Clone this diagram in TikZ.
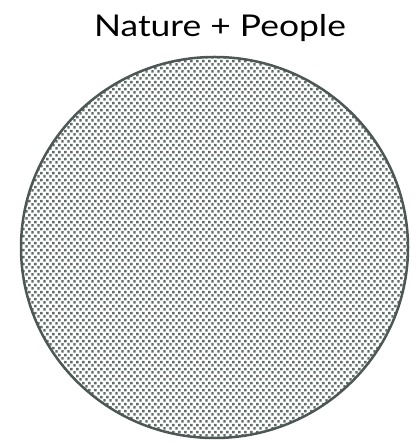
\documentclass[tikz,border=0pt]{standalone}
\usepackage{fontspec}
\setmainfont{Lato}
\newfontfamily\titlefont{Lato}[FakeStretch=1.18]
\usetikzlibrary{patterns,shapes.geometric}
\definecolor{dotc}{HTML}{5F6B68}
\definecolor{rimc}{HTML}{4D5856}
\pgfdeclarepatternformonly{sqgrid}{\pgfpointorigin}{\pgfpoint{6.4pt}{7.4pt}}{\pgfpoint{6.4pt}{7.4pt}}{%
  \pgfpathrectangle{\pgfpoint{0.3pt}{0.3pt}}{\pgfpoint{2.7pt}{2.7pt}}%
  \pgfpathrectangle{\pgfpoint{3.5pt}{4.0pt}}{\pgfpoint{2.7pt}{2.7pt}}%
  \pgfusepath{fill}}
\tikzset{
  titletext/.style={font=\titlefont\fontsize{30}{36}\selectfont, text=black, inner sep=0pt, anchor=base},
  disc/.style={ellipse, draw=rimc, line width=2.5pt, pattern=sqgrid, pattern color=dotc, minimum width=387pt, minimum height=381pt, inner sep=0pt}
}
\begin{document}
\begin{tikzpicture}[x=1pt,y=1pt]
\useasboundingbox (0,0) rectangle (417,443);
\node[titletext] (title) at (220,406) {Nature + People};
\node[disc] (circ) at (214.5,195.5) {};
\end{tikzpicture}
\end{document}
